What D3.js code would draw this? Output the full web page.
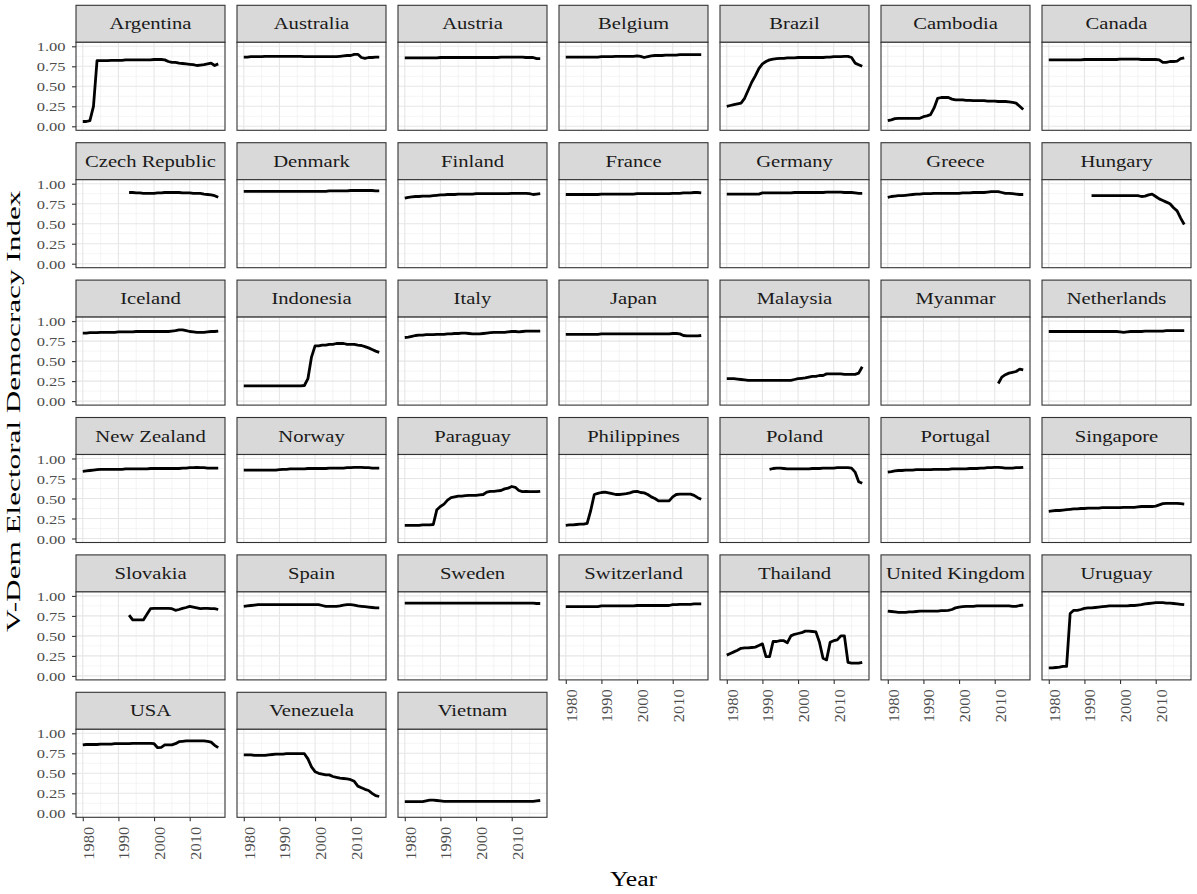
<!DOCTYPE html>
<html><head><meta charset="utf-8">
<script src="https://cdn.jsdelivr.net/npm/d3@7"></script>
<style>body{margin:0;background:#fff} svg{display:block}</style>
</head><body>
<svg id="chart" width="1197" height="894"></svg>
<script>
// ---------- data ----------
const countries = ["Argentina","Australia","Austria","Belgium","Brazil","Cambodia","Canada",
  "Czech Republic","Denmark","Finland","France","Germany","Greece","Hungary",
  "Iceland","Indonesia","Italy","Japan","Malaysia","Myanmar","Netherlands",
  "New Zealand","Norway","Paraguay","Philippines","Poland","Portugal","Singapore",
  "Slovakia","Spain","Sweden","Switzerland","Thailand","United Kingdom","Uruguay",
  "USA","Venezuela","Vietnam"];
const startYears = [1980,1980,1980,1980,1980,1980,1980,
  1993,1980,1980,1980,1980,1980,1992,
  1980,1980,1980,1980,1980,2011,1980,
  1980,1980,1980,1980,1992,1980,1980,
  1993,1980,1980,1980,1980,1980,1980,
  1980,1980,1980];

const argentina = [.06,.06,.07,.25,.82,.82,.82,.82,.825,.825,.825,.825,.83,.83,.83,.83,.83,.83,.83,.83,.835,.835,.835,.83,.81,.80,.80,.79,.785,.78,.775,.77,.76,.765,.77,.78,.79,.76,.78];
const australia = [.865,.865,.87,.87,.87,.87,.875,.875,.875,.875,.875,.875,.875,.875,.875,.875,.875,.87,.87,.87,.87,.87,.87,.87,.87,.87,.87,.875,.88,.885,.885,.90,.90,.86,.85,.86,.86,.865,.865];
const austria = [.855,.855,.855,.855,.855,.855,.855,.855,.855,.855,.86,.86,.86,.86,.86,.86,.86,.86,.86,.86,.86,.86,.86,.86,.86,.86,.86,.865,.865,.865,.865,.865,.865,.865,.86,.86,.86,.845,.845];
const belgium = [.865,.865,.865,.865,.865,.865,.865,.865,.865,.865,.87,.87,.87,.87,.875,.875,.875,.875,.875,.875,.88,.875,.86,.87,.88,.885,.885,.885,.89,.89,.89,.89,.895,.895,.895,.895,.895,.895,.895];
const brazil = [.25,.26,.27,.28,.29,.35,.45,.55,.63,.72,.78,.81,.83,.84,.845,.85,.85,.855,.855,.855,.86,.86,.86,.86,.86,.86,.86,.86,.865,.865,.87,.87,.87,.875,.875,.86,.79,.77,.75];
const cambodia = [.07,.08,.095,.10,.10,.10,.10,.10,.10,.10,.12,.13,.145,.23,.35,.36,.36,.36,.34,.33,.33,.33,.325,.325,.32,.32,.32,.32,.315,.315,.315,.31,.31,.31,.305,.30,.29,.25,.21];
const canada = [.83,.83,.83,.83,.83,.83,.83,.83,.83,.83,.835,.835,.835,.835,.835,.835,.835,.835,.835,.835,.84,.84,.84,.84,.84,.84,.835,.835,.835,.835,.835,.83,.80,.80,.81,.81,.815,.845,.855];
const czechRepublic = [.89,.89,.885,.885,.88,.88,.88,.88,.885,.885,.89,.89,.89,.89,.89,.885,.885,.885,.88,.88,.88,.87,.865,.86,.85,.83];
const denmark = [.905,.905,.905,.905,.905,.905,.905,.905,.905,.905,.905,.905,.905,.905,.905,.905,.905,.905,.905,.905,.905,.905,.905,.905,.91,.91,.91,.91,.91,.91,.915,.915,.915,.915,.915,.915,.915,.91,.91];
const finland = [.82,.83,.835,.84,.84,.845,.845,.845,.85,.855,.86,.86,.865,.865,.865,.87,.87,.87,.87,.87,.875,.875,.875,.875,.875,.875,.875,.875,.875,.875,.88,.88,.88,.88,.88,.875,.865,.87,.875];
const france = [.865,.865,.865,.865,.865,.865,.865,.865,.865,.865,.87,.87,.87,.87,.87,.87,.87,.87,.87,.87,.875,.875,.875,.875,.875,.875,.875,.875,.875,.875,.88,.88,.88,.885,.885,.885,.89,.89,.885];
const germany = [.87,.87,.87,.87,.87,.87,.87,.87,.87,.87,.885,.885,.885,.885,.885,.885,.885,.885,.885,.89,.89,.89,.89,.89,.89,.89,.89,.89,.895,.895,.895,.895,.895,.89,.89,.89,.885,.88,.88];
const greece = [.83,.84,.845,.85,.85,.855,.86,.865,.87,.87,.875,.875,.875,.88,.88,.88,.88,.88,.88,.88,.88,.885,.885,.885,.89,.89,.89,.89,.895,.90,.90,.90,.89,.88,.88,.875,.87,.865,.865];
const hungary = [.85,.85,.85,.85,.85,.85,.85,.85,.85,.85,.85,.85,.85,.85,.84,.845,.86,.87,.84,.81,.79,.77,.75,.70,.66,.57,.49];
const iceland = [.85,.85,.855,.855,.855,.86,.86,.86,.86,.86,.865,.865,.865,.865,.865,.87,.87,.87,.87,.87,.87,.87,.87,.87,.87,.875,.88,.89,.89,.88,.87,.865,.86,.86,.86,.865,.87,.87,.875];
const indonesia = [.19,.19,.19,.19,.19,.19,.19,.19,.19,.19,.19,.19,.19,.19,.19,.19,.19,.195,.28,.55,.69,.69,.70,.70,.71,.71,.72,.72,.72,.71,.71,.71,.70,.695,.68,.665,.645,.625,.61];
const italy = [.795,.80,.81,.82,.825,.825,.83,.83,.83,.835,.835,.835,.84,.84,.845,.845,.85,.85,.845,.84,.84,.84,.845,.85,.855,.86,.86,.86,.86,.865,.87,.87,.865,.87,.875,.875,.875,.875,.875];
const japan = [.835,.835,.835,.835,.835,.835,.835,.835,.835,.835,.84,.84,.84,.84,.84,.84,.84,.84,.84,.84,.84,.84,.84,.84,.84,.84,.84,.84,.84,.84,.845,.845,.84,.82,.815,.815,.815,.815,.82];
const malaysia = [.28,.28,.28,.275,.27,.265,.26,.26,.26,.26,.26,.26,.26,.26,.26,.26,.26,.26,.26,.27,.28,.285,.29,.30,.31,.31,.32,.32,.34,.34,.34,.34,.34,.335,.335,.335,.335,.35,.43];
const myanmar = [.22,.30,.33,.35,.36,.37,.40,.39];
const netherlands = [.87,.87,.87,.87,.87,.87,.87,.87,.87,.87,.87,.87,.87,.87,.87,.87,.87,.87,.87,.87,.865,.86,.865,.87,.87,.87,.87,.875,.875,.875,.875,.875,.875,.88,.88,.88,.88,.88,.88];
const newZealand = [.84,.845,.85,.855,.86,.865,.865,.865,.865,.865,.865,.865,.87,.87,.87,.87,.87,.87,.87,.875,.875,.875,.875,.875,.875,.875,.875,.875,.88,.88,.885,.885,.89,.885,.885,.88,.88,.88,.88];
const norway = [.855,.855,.855,.855,.855,.855,.855,.855,.855,.855,.86,.865,.865,.87,.87,.87,.87,.87,.875,.875,.875,.875,.875,.875,.88,.88,.88,.88,.88,.885,.885,.89,.89,.89,.885,.885,.88,.88,.88];
const paraguay = [.165,.165,.165,.165,.165,.17,.17,.17,.175,.36,.40,.43,.48,.51,.52,.53,.53,.535,.54,.54,.54,.545,.55,.58,.59,.59,.595,.60,.62,.63,.65,.64,.60,.585,.59,.585,.585,.585,.59];
const philippines = [.165,.17,.17,.175,.18,.18,.19,.35,.55,.565,.575,.58,.57,.56,.55,.55,.555,.56,.57,.585,.59,.575,.57,.55,.52,.50,.47,.47,.47,.47,.52,.55,.555,.555,.555,.555,.54,.51,.49];
const poland = [.865,.875,.88,.88,.875,.87,.87,.87,.87,.87,.87,.87,.875,.875,.875,.88,.88,.88,.88,.885,.885,.885,.885,.88,.83,.71,.69];
const portugal = [.83,.835,.845,.85,.85,.855,.855,.855,.86,.86,.86,.86,.86,.865,.865,.865,.865,.865,.87,.87,.87,.87,.87,.875,.875,.875,.88,.88,.885,.885,.89,.89,.885,.88,.88,.88,.885,.885,.89];
const singapore = [.34,.345,.35,.35,.355,.36,.365,.37,.37,.375,.375,.38,.38,.38,.38,.385,.385,.385,.385,.385,.385,.39,.39,.39,.39,.395,.40,.40,.40,.40,.405,.42,.435,.44,.44,.44,.44,.435,.43];
const slovakia = [.76,.70,.70,.70,.70,.77,.84,.845,.845,.845,.845,.845,.84,.82,.83,.845,.855,.87,.86,.85,.84,.845,.845,.84,.84,.83];
const spain = [.87,.875,.88,.885,.89,.89,.89,.89,.89,.89,.89,.89,.89,.89,.89,.89,.89,.89,.89,.89,.89,.89,.88,.87,.87,.87,.87,.875,.885,.89,.89,.885,.875,.87,.865,.86,.855,.85,.85];
const sweden = [.91,.91,.91,.91,.91,.91,.91,.91,.91,.91,.91,.91,.91,.91,.91,.91,.91,.91,.91,.91,.91,.91,.91,.91,.91,.91,.91,.91,.91,.91,.91,.91,.91,.91,.91,.91,.91,.905,.905];
const switzerland = [.865,.865,.865,.865,.865,.865,.865,.865,.865,.865,.875,.875,.875,.875,.875,.875,.875,.875,.875,.875,.88,.88,.88,.88,.88,.88,.88,.88,.88,.88,.89,.89,.895,.895,.895,.895,.90,.90,.90];
const thailand = [.26,.28,.30,.32,.345,.35,.35,.355,.36,.38,.40,.24,.24,.43,.43,.44,.44,.415,.50,.52,.53,.54,.56,.56,.555,.55,.42,.22,.20,.42,.44,.45,.50,.50,.17,.16,.16,.16,.17];
const unitedKingdom = [.81,.805,.80,.795,.795,.795,.80,.80,.805,.81,.81,.81,.81,.81,.81,.815,.815,.82,.83,.85,.86,.865,.87,.87,.87,.875,.875,.875,.875,.875,.875,.875,.875,.875,.875,.87,.87,.88,.885];
const uruguay = [.10,.10,.105,.11,.12,.12,.78,.82,.82,.83,.845,.85,.85,.855,.86,.865,.87,.875,.875,.875,.875,.875,.875,.88,.88,.885,.89,.90,.905,.91,.915,.915,.915,.91,.91,.905,.90,.895,.89];
const usa = [.855,.86,.86,.86,.86,.865,.865,.865,.865,.87,.87,.87,.87,.87,.875,.875,.875,.875,.875,.875,.87,.82,.825,.855,.855,.855,.87,.895,.90,.905,.905,.905,.905,.905,.905,.90,.89,.85,.82];
const venezuela = [.73,.73,.73,.725,.725,.725,.725,.73,.735,.74,.74,.74,.745,.745,.745,.745,.745,.745,.68,.58,.52,.50,.49,.48,.48,.46,.45,.44,.435,.43,.42,.40,.34,.32,.30,.285,.25,.22,.21];
const vietnam = [.145,.145,.145,.145,.145,.145,.155,.165,.165,.16,.155,.15,.15,.15,.15,.15,.15,.15,.15,.15,.15,.15,.15,.15,.15,.15,.15,.15,.15,.15,.15,.15,.15,.15,.15,.15,.15,.155,.16];

const series = [argentina, australia, austria, belgium, brazil, cambodia, canada,
  czechRepublic, denmark, finland, france, germany, greece, hungary,
  iceland, indonesia, italy, japan, malaysia, myanmar, netherlands,
  newZealand, norway, paraguay, philippines, poland, portugal, singapore,
  slovakia, spain, sweden, switzerland, thailand, unitedKingdom, uruguay,
  usa, venezuela, vietnam];

const xTicks = [1980, 1990, 2000, 2010];
const xMinorTicks = [1985, 1995, 2005, 2015];
const yTicks = [0, 0.25, 0.5, 0.75, 1];
const yMinorTicks = [0.125, 0.375, 0.625, 0.875];
const yTitle = "V-Dem Electoral Democracy Index";
const xTitle = "Year";

// ---------- layout ----------
const W = 1197, H = 894;
const ncol = 7;
const left0 = 76, colStep = 161, panelW = 149;
const top0 = 5.3, rowStep = 137.4, stripH = 37, plotH = 88;
const FONT = '"Liberation Serif", "Times New Roman", serif';
const K = 1.25;

const x = d3.scaleLinear().domain([1980 - 1.9, 2018 + 1.9]).range([0, panelW]);
const y = d3.scaleLinear().domain([-0.05, 1.05]).range([plotH, 0]);
const line = d3.line().x(d => x(d.year)).y(d => y(d.value));

const svg = d3.select('#chart');
svg.append('rect').attr('width', W).attr('height', H).attr('fill', '#fff');

countries.forEach((name, i) => {
  const r = Math.floor(i / ncol), c = i % ncol;
  const gx = left0 + c * colStep, gy = top0 + r * rowStep;
  const g = svg.append('g').attr('transform', `translate(${gx},${gy})`);

  // strip
  g.append('rect').attr('x', 0).attr('y', 0).attr('width', panelW).attr('height', stripH)
    .attr('fill', '#d9d9d9').attr('stroke', '#333').attr('stroke-width', 1.1);
  g.append('text')
    .attr('transform', `translate(${panelW / 2},24) scale(${K},1)`)
    .attr('text-anchor', 'middle').attr('font-family', FONT).attr('font-size', 16.5)
    .attr('fill', '#1a1a1a').text(name);

  const p = g.append('g').attr('transform', `translate(0,${stripH})`);
  p.append('rect').attr('width', panelW).attr('height', plotH).attr('fill', '#fff');

  // minor grid
  p.selectAll('line.vmin').data(xMinorTicks).join('line')
    .attr('x1', d => x(d)).attr('x2', d => x(d)).attr('y1', 0).attr('y2', plotH)
    .attr('stroke', '#efefef').attr('stroke-width', 0.6);
  p.selectAll('line.hmin').data(yMinorTicks).join('line')
    .attr('y1', d => y(d)).attr('y2', d => y(d)).attr('x1', 0).attr('x2', panelW)
    .attr('stroke', '#efefef').attr('stroke-width', 0.6);
  // major grid
  p.selectAll('line.vmaj').data(xTicks).join('line')
    .attr('x1', d => x(d)).attr('x2', d => x(d)).attr('y1', 0).attr('y2', plotH)
    .attr('stroke', '#e6e6e6').attr('stroke-width', 1.1);
  p.selectAll('line.hmaj').data(yTicks).join('line')
    .attr('y1', d => y(d)).attr('y2', d => y(d)).attr('x1', 0).attr('x2', panelW)
    .attr('stroke', '#e6e6e6').attr('stroke-width', 1.1);

  // line
  const data = series[i].map((v, k) => ({ year: startYears[i] + k, value: v }));
  p.append('path').datum(data).attr('d', line)
    .attr('fill', 'none').attr('stroke', '#000').attr('stroke-width', 2.8)
    .attr('stroke-linejoin', 'round');

  // border
  p.append('rect').attr('width', panelW).attr('height', plotH)
    .attr('fill', 'none').attr('stroke', '#333').attr('stroke-width', 1.1);

  // left axis
  if (c === 0) {
    const ax = p.append('g').call(d3.axisLeft(y).tickValues(yTicks).tickSize(4).tickFormat(d3.format('.2f')));
    ax.select('.domain').remove();
    ax.selectAll('.tick line').attr('stroke', '#333').attr('stroke-width', 1.1);
    ax.selectAll('.tick text')
      .attr('x', null).attr('dy', null)
      .attr('transform', `translate(-10.5,4.5) scale(${K},1)`)
      .attr('text-anchor', 'end').attr('font-family', FONT).attr('font-size', 13.2)
      .attr('fill', '#4d4d4d');
  }
  // bottom axis
  if (i + ncol >= countries.length) {
    const ax = p.append('g').attr('transform', `translate(0,${plotH})`)
      .call(d3.axisBottom(x).tickValues(xTicks).tickSize(4).tickFormat(d3.format('d')));
    ax.select('.domain').remove();
    ax.selectAll('.tick line').attr('stroke', '#333').attr('stroke-width', 1.1);
    ax.selectAll('.tick text')
      .attr('y', null).attr('dy', null)
      .attr('transform', 'translate(10.5,9.4) rotate(-90) scale(1.1,1)')
      .attr('text-anchor', 'end').attr('font-family', FONT).attr('font-size', 15)
      .attr('fill', '#4d4d4d');
  }
});

// axis titles
svg.append('text')
  .attr('transform', `translate(${(left0 + left0 + 6 * colStep + panelW) / 2},886) scale(${K},1)`)
  .attr('text-anchor', 'middle').attr('font-family', FONT).attr('font-size', 20.5)
  .attr('fill', '#000').text(xTitle);
svg.append('text')
  .attr('transform', `translate(20,${(top0 + top0 + 5 * rowStep + stripH + plotH) / 2}) rotate(-90) scale(1.6,1)`)
  .attr('text-anchor', 'middle').attr('font-family', FONT).attr('font-size', 19.5)
  .attr('fill', '#000').text(yTitle);
</script>
</body></html>
